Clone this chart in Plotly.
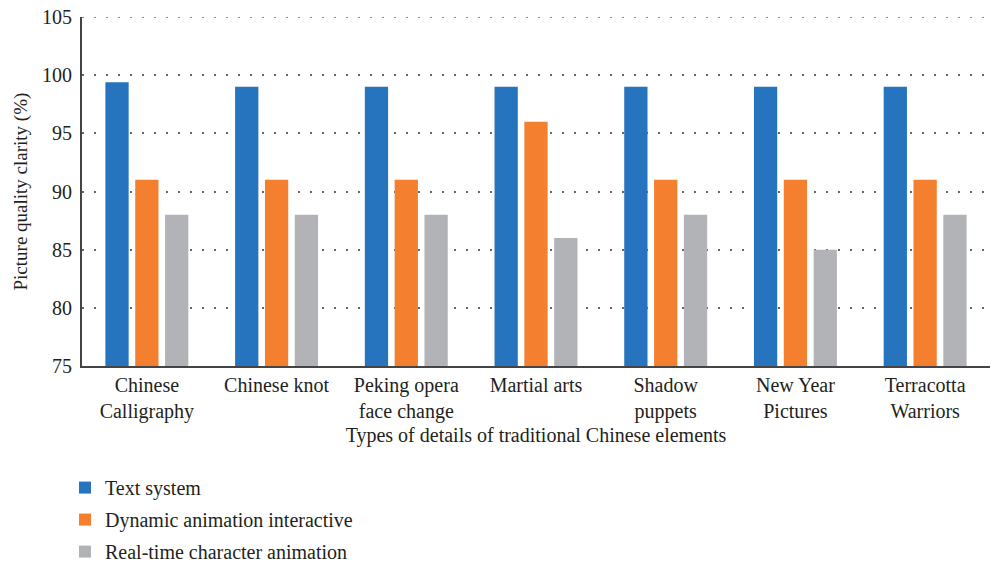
import plotly.graph_objects as go

categories = ["Chinese<br>Calligraphy", "Chinese knot", "Peking opera<br>face change",
              "Martial arts", "Shadow<br>puppets", "New Year<br>Pictures", "Terracotta<br>Warriors"]
text_system = [99.4, 99, 99, 99, 99, 99, 99]
dynamic_anim = [91, 91, 91, 96, 91, 91, 91]
realtime_anim = [88, 88, 88, 86, 88, 85, 88]
series_names = ["Text system", "Dynamic animation interactive", "Real-time character animation"]
colors = ["#2574BD", "#F37F2F", "#B2B3B6"]
y_title = "Picture quality clarity (%)"
x_title = "Types of details of traditional Chinese elements"

font = "Liberation Serif"
fig = go.Figure()
for i, (name, vals) in enumerate(zip(series_names, [text_system, dynamic_anim, realtime_anim])):
    fig.add_trace(go.Bar(x=categories, y=vals, name=name, marker_color=colors[i],
                         marker_line_width=0, legendgroup=str(i)))

fig.update_layout(
    width=1000, height=566,
    margin=dict(l=82, r=10, t=17, b=200, autoexpand=False),
    plot_bgcolor="white", paper_bgcolor="white",
    barmode="group", bargap=0.31, bargroupgap=0.22,
    font=dict(family=font, size=20, color="#231F20"),
    legend=dict(x=0.065, y=0.173, xref="container", yref="container",
                xanchor="left", yanchor="top", orientation="v",
                font=dict(size=20), tracegroupgap=3, itemwidth=30),
    showlegend=True,
)
fig.add_shape(type="line", xref="paper", yref="y", x0=0, x1=1, y0=105, y1=105,
              line=dict(color="#666", width=1.5, dash="2px,10px"), layer="below")
fig.add_annotation(text=y_title, xref="paper", yref="paper", x=0, y=0.5, xanchor="center",
                   yanchor="middle", xshift=-62, textangle=-90, showarrow=False,
                   font=dict(size=19, family=font, color="#231F20"))
fig.update_yaxes(range=[75, 105], dtick=5, tick0=75, showline=True, linecolor="#444", linewidth=2,
                 showgrid=True, gridcolor="#666", griddash="2px,10px", gridwidth=1.5,
                 ticks="", zeroline=False, tickfont=dict(size=20), ticklabelstandoff=4)
fig.update_xaxes(showline=True, linecolor="#444", linewidth=2, ticks="", ticklabelstandoff=0,
                 tickfont=dict(size=20),
                 title=dict(text=x_title, font=dict(size=20), standoff=6))
fig.write_html("out.html")
